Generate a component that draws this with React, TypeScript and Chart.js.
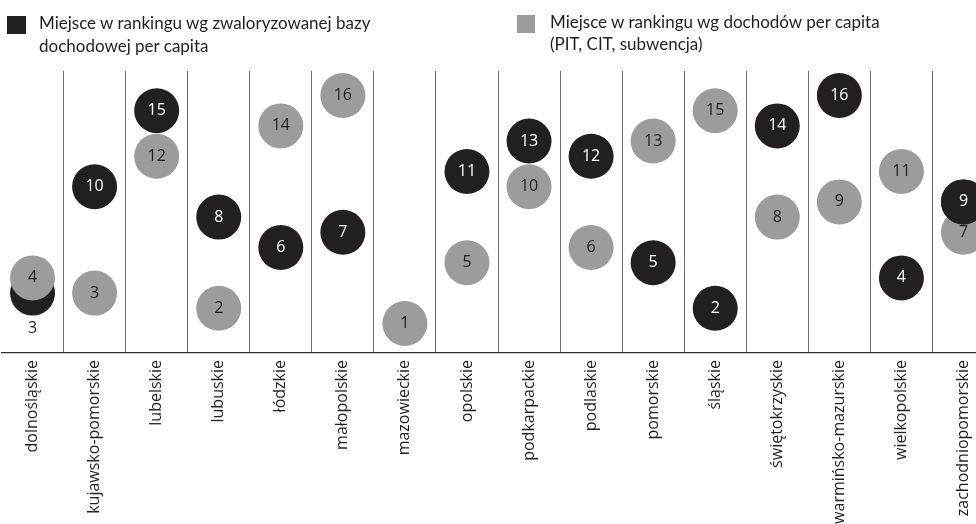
import React, { useEffect, useRef } from "react";
import { Chart, registerables } from "chart.js";

Chart.register(...registerables);

const categories = [
  "dolnośląskie",
  "kujawsko-pomorskie",
  "lubelskie",
  "lubuskie",
  "łódzkie",
  "małopolskie",
  "mazowieckie",
  "opolskie",
  "podkarpackie",
  "podlaskie",
  "pomorskie",
  "śląskie",
  "świętokrzyskie",
  "warmińsko-mazurskie",
  "wielkopolskie",
  "zachodniopomorskie",
];

// Miejsce w rankingu wg zwaloryzowanej bazy dochodowej per capita
const rankBaza = [3, 10, 15, 8, 6, 7, 1, 11, 13, 12, 5, 2, 14, 16, 4, 9];
// Miejsce w rankingu wg dochodów per capita (PIT, CIT, subwencja)
const rankDochody = [4, 3, 12, 2, 14, 16, 1, 5, 10, 6, 13, 15, 8, 9, 11, 7];

const legendBaza = ["Miejsce w rankingu wg zwaloryzowanej bazy", "dochodowej per capita"];
const legendDochody = ["Miejsce w rankingu wg dochodów per capita", "(PIT, CIT, subwencja)"];

const BLACK = "#231f20";
const GRAY = "#9c9b9d";
const TEXT = "#231f20";
const RADIUS = 22.5;

const orderPlugin = {
  id: "orderedBubbles",
  beforeDatasetsDraw(chart: any) {
    const ctx = chart.ctx;
    const metaB = chart.getDatasetMeta(0);
    const metaG = chart.getDatasetMeta(1);
    ctx.save();
    ctx.font = "16px 'Open Sans'";
    ctx.textAlign = "center";
    ctx.textBaseline = "middle";
    for (let i = 0; i < categories.length; i++) {
      const b = metaB.data[i];
      const g = metaG.data[i];
      const vb = rankBaza[i];
      const vg = rankDochody[i];
      const items =
        vb > vg
          ? [
              { el: g, v: vg, fg: TEXT },
              { el: b, v: vb, fg: "#ffffff" },
            ]
          : [
              { el: b, v: vb, fg: "#ffffff" },
              { el: g, v: vg, fg: TEXT },
            ];
      const first = items[0];
      const second = items[1];
      const dy = Math.abs(first.el.y - second.el.y);
      if (dy >= 0.5) {
        first.el.draw(ctx);
      }
      second.el.draw(ctx);
      if (dy < 0.5) {
        // fully hidden: no label
      } else if (dy < RADIUS) {
        ctx.fillStyle = TEXT;
        ctx.fillText(String(first.v), first.el.x, first.el.y + 35);
      } else {
        ctx.fillStyle = first.fg;
        ctx.fillText(String(first.v), first.el.x, first.el.y);
        if (dy < RADIUS * 2) {
          second.el.draw(ctx);
        }
      }
      ctx.fillStyle = second.fg;
      ctx.fillText(String(second.v), second.el.x, second.el.y);
    }
    ctx.restore();
    return false;
  },
};

export default function App() {
  const canvasRef = useRef<HTMLCanvasElement | null>(null);

  useEffect(() => {
    if (!canvasRef.current) return;
    const chart = new Chart(canvasRef.current, {
      type: "line",
      data: {
        labels: categories,
        datasets: [
          {
            label: legendBaza.join(" "),
            data: rankBaza,
            showLine: false,
            pointRadius: RADIUS,
            pointHoverRadius: RADIUS,
            pointBackgroundColor: BLACK,
            pointBorderWidth: 0,
            pointBorderColor: BLACK,
            clip: false,
          },
          {
            label: legendDochody.join(" "),
            data: rankDochody,
            showLine: false,
            pointRadius: RADIUS,
            pointHoverRadius: RADIUS,
            pointBackgroundColor: GRAY,
            pointBorderWidth: 0,
            pointBorderColor: GRAY,
            clip: false,
          },
        ],
      },
      options: {
        animation: false,
        responsive: true,
        maintainAspectRatio: false,
        events: [],
        layout: { autoPadding: false, padding: { left: 1.5, right: 5.5, top: 71, bottom: 0 } },
        plugins: {
          legend: { display: false },
          tooltip: { enabled: false },
        },
        scales: {
          x: {
            type: "category",
            offset: true,
            afterFit: (scale: any) => {
              scale.height = 171;
              scale.paddingLeft = 0;
              scale.paddingRight = 0;
            },
            grid: {
              offset: true,
              drawTicks: false,
              lineWidth: 1,
              color: (c: any) => (c.index === 0 ? "rgba(0,0,0,0)" : "#6f6e70"),
            },
            border: { display: true, color: "#333333", width: 1.3 },
            ticks: {
              autoSkip: false,
              minRotation: 90,
              maxRotation: 90,
              padding: 7,
              color: "#231f20",
              font: { family: "'Open Sans'", size: 16 },
            },
          },
          y: {
            display: false,
            min: -0.94,
            max: 17.61,
          },
        },
      },
      plugins: [orderPlugin],
    });
    return () => chart.destroy();
  }, []);

  const legendText: React.CSSProperties = {
    position: "absolute",
    fontFamily: "Lato",
    fontSize: 17,
    lineHeight: "22.7px",
    color: TEXT,
    whiteSpace: "nowrap",
  };

  return (
    <div
      style={{
        position: "fixed",
        left: 0,
        top: 0,
        width: 976,
        height: 524,
        overflow: "hidden",
        background: "#ffffff",
      }}
    >
      <div style={{ position: "absolute", left: 0, top: 0, width: 1000, height: 524 }}>
        <canvas ref={canvasRef} />
      </div>
      <div style={{ position: "absolute", left: 7, top: 16, width: 19, height: 18, background: BLACK }} />
      <div style={{ ...legendText, left: 39, top: 12 }}>
        {legendBaza[0]}
        <br />
        {legendBaza[1]}
      </div>
      <div style={{ position: "absolute", left: 517, top: 15, width: 18, height: 18, background: GRAY }} />
      <div style={{ ...legendText, left: 550, top: 10.5 }}>
        {legendDochody[0]}
        <br />
        {legendDochody[1]}
      </div>
    </div>
  );
}
